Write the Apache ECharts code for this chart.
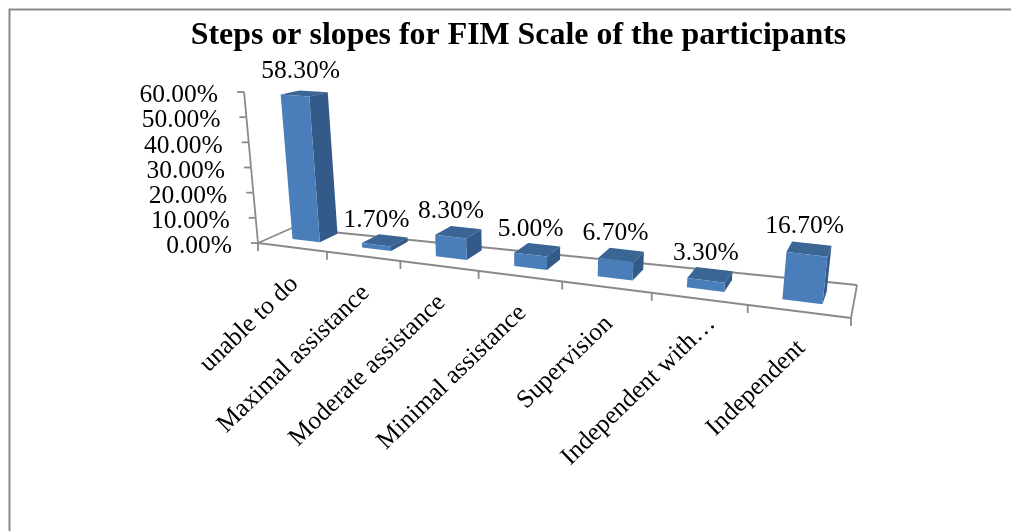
<!DOCTYPE html>
<html>
<head>
<meta charset="utf-8">
<style>
  html, body { margin: 0; padding: 0; background: #fff; }
  #chart { width: 1011px; height: 531px; }
</style>
<script src="https://cdn.jsdelivr.net/npm/echarts@6/dist/echarts.min.js"></script>
</head>
<body>
<div id="chart"></div>
<script>
const titleText = 'Steps or slopes for FIM Scale of the participants';
const categories = ['unable to do', 'Maximal assistance', 'Moderate assistance', 'Minimal assistance', 'Supervision', 'Independent with…', 'Independent'];
const values = [58.3, 1.7, 8.3, 5.0, 6.7, 3.3, 16.7];
const yTicks = [0, 10, 20, 30, 40, 50, 60];

const FONT = '"Liberation Serif", "Times New Roman", serif';
const AXIS_COLOR = '#8a8a8a';
const pct = v => v.toFixed(2) + '%';

// the flat grid carries the scales, project() tips it into the slanted 3D look
const GRID = { left: 258, right: 160, top: 92, height: 151 };
const BOTTOM = GRID.top + GRID.height;
const WIDTH = 1011 - GRID.left - GRID.right;

function project(px, py, d) {
  const u = (px - GRID.left) / WIDTH;
  const fx = (258 + 414.3 * u) / (1 - 0.21 * u);
  const fy = 243 + 0.1265 * (fx - 258);
  const x = fx + d * (36 - 30 * u + 24 * u * (1 - u));
  const y = fy + d * (-16 - 9 * u);
  const h = (BOTTOM - py) * (1 + 0.16 * u);
  return [x + (x - 533) / (3224 - y) * h, y - h + d * h * 0.055];
}

function line(p1, p2) {
  return {
    type: 'line',
    shape: { x1: p1[0], y1: p1[1], x2: p2[0], y2: p2[1] },
    style: { stroke: AXIS_COLOR, lineWidth: 1.8 }
  };
}

function label(text, x, y, align, rotation) {
  return {
    type: 'text',
    x: x,
    y: y,
    rotation: rotation || 0,
    style: { text: text, font: '25.5px ' + FONT, fill: '#000', align: align, verticalAlign: 'middle' }
  };
}

function renderFloor(params, api) {
  const band = api.size([1, 0])[0];
  const x0 = api.coord([0, 0])[0] - band / 2;
  const x1 = x0 + band * categories.length;
  const frontL = project(x0, BOTTOM, 0);
  const frontR = project(x1, BOTTOM, 0);
  const backL = [292, 228];
  const backR = [857, 285];
  const children = [line(frontL, frontR), line(frontL, backL), line(backL, backR), line(backR, frontR)];
  categories.forEach((c, i) => {
    const p = project(x0 + band * i, BOTTOM, 0);
    children.push(line(p, [p[0], p[1] + 8]));
  });
  children.push(line(frontR, [frontR[0], frontR[1] + 8]));
  return { type: 'group', children: children };
}

function renderYAxis(params, api) {
  const band = api.size([1, 0])[0];
  const x0 = api.coord([0, 0])[0] - band / 2;
  const v = api.value(0);
  const p = project(x0, api.coord([0, v])[1], 0);
  const children = [label(pct(v), p[0] - 26, p[1] + 3.5, 'right'), line(p, [p[0] - 7, p[1]])];
  if (params.dataIndex > 0) {
    const prev = project(x0, api.coord([0, yTicks[params.dataIndex - 1]])[1], 0);
    children.push(line(p, prev));
  }
  return { type: 'group', children: children };
}

function renderBar(params, api) {
  const i = api.value(0);
  const v = api.value(1);
  const c = api.coord([i, v]);
  const band = api.size([1, 0])[0];
  const xl = c[0] - band * 0.2;
  const xr = c[0] + band * 0.2;
  const D0 = 0.4;
  const D1 = 0.9;
  const poly = (points, fill) => ({ type: 'polygon', shape: { points: points }, style: { fill: fill } });
  const ftl = project(xl, c[1], D0);
  const ftr = project(xr, c[1], D0);
  const btl = project(xl, c[1], D1);
  const btr = project(xr, c[1], D1);
  const fbl = project(xl, BOTTOM, D0);
  const fbr = project(xr, BOTTOM, D0);
  const bbr = project(xr, BOTTOM, D1);
  const labelX = (ftl[0] + ftr[0] + fbl[0] + fbr[0]) / 4;
  const labelY = btl[1] - 13.5 - 0.04 * (fbl[1] - ftl[1]);
  return {
    type: 'group',
    children: [
      poly([ftl, ftr, btr, btl], '#3a6595'),
      poly([ftr, btr, bbr, fbr], '#335a88'),
      poly([ftl, ftr, fbr, fbl], '#4a7ebb'),
      label(pct(v), labelX, labelY, 'center')
    ]
  };
}

function renderCategory(params, api) {
  const i = api.value(0);
  const c = api.coord([i, 0]);
  const band = api.size([1, 0])[0];
  const p0 = project(c[0] - band / 2, BOTTOM, 0);
  const p1 = project(c[0] + band / 2, BOTTOM, 0);
  // the cut-off label sits a bit higher and to the right of the others
  const cut = categories[i].endsWith('…');
  const x = (p0[0] + p1[0]) / 2 + 2 + (cut ? 10 : 0);
  const y = (p0[1] + p1[1]) / 2 + 33 - (cut ? 12 : 0);
  return label(categories[i], x, y, 'right', 44 * Math.PI / 180);
}

const chart = echarts.init(document.getElementById('chart'));
chart.setOption({
  animation: false,
  backgroundColor: '#fff',
  title: {
    text: titleText,
    left: 513.5,
    top: 15,
    textAlign: 'center',
    textStyle: { fontFamily: FONT, fontSize: 31.9, fontWeight: 'bold', color: '#000' }
  },
  graphic: [{
    type: 'polyline',
    shape: { points: [[9.5, 531], [9.5, 9.5], [1011, 9.5]] },
    style: { stroke: '#8a8a8a', lineWidth: 2, fill: 'none' }
  }],
  grid: GRID,
  xAxis: { type: 'category', data: categories, show: false },
  yAxis: { type: 'value', min: 0, max: 60, interval: 10, show: false },
  series: [
    { type: 'custom', clip: false, silent: true, renderItem: renderFloor, data: [[0]], encode: { x: 0 } },
    { type: 'custom', clip: false, silent: true, renderItem: renderYAxis, data: yTicks.map(v => [v]), encode: { y: 0 } },
    { type: 'custom', clip: false, silent: true, renderItem: renderBar, data: values.map((v, i) => [i, v]), encode: { x: 0, y: 1 } },
    { type: 'custom', clip: false, silent: true, renderItem: renderCategory, data: categories.map((c, i) => [i]), encode: { x: 0 } }
  ]
});
</script>
</body>
</html>
